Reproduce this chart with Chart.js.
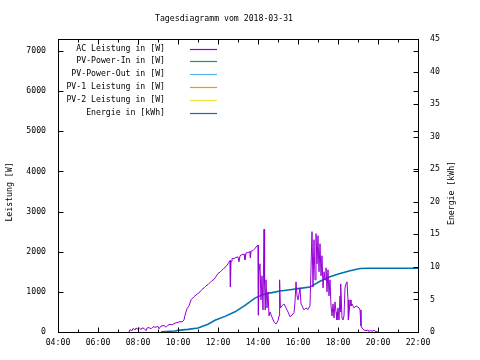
<!DOCTYPE html>
<html>
<head>
<meta charset="utf-8">
<script src="https://cdn.jsdelivr.net/npm/chart.js@4.4.1/dist/chart.umd.min.js"></script>
<style>
html,body{margin:0;padding:0;background:#fff;}
canvas{display:block;}
</style>
</head>
<body>
<canvas id="c" width="480" height="360"></canvas>
<script>
// ---- data (hours of day, values) ----
const chartTitle = 'Tagesdiagramm vom 2018-03-31';
const xTickValues = [4,6,8,10,12,14,16,18,20,22];
const xTickLabels = ['04:00','06:00','08:00','10:00','12:00','14:00','16:00','18:00','20:00','22:00'];
const yTickValues = [0,1000,2000,3000,4000,5000,6000,7000];
const y2TickValues = [0,5,10,15,20,25,30,35,40,45];
const seriesLabels = ['AC Leistung in [W]','PV-Power-In in [W]','PV-Power-Out in [W]','PV-1 Leistung in [W]','PV-2 Leistung in [W]','Energie in [kWh]'];
const seriesColors = ['#9400d3','#009e73','#56b4e9','#e69f00','#f0e442','#0072b2'];

const acTimes = [7.55,7.6,7.7,7.75,7.85,7.9,8.0,8.05,8.15,8.2,8.3,8.4,8.45,8.55,8.65,8.75,8.9,9.0,9.05,9.15,9.3,9.4,9.5,9.6,9.7,9.8,9.9,10.0,10.1,10.2,10.3,
10.35,10.45,10.55,10.65,10.8,10.9,11.0,11.1,11.2,11.3,11.4,11.5,11.6,11.7,11.8,11.9,12.0,12.1,12.2,12.3,12.4,12.5,12.6,12.62,12.65,12.7,12.8,12.9,13.0,13.05,13.1,13.2,13.3,13.35,13.4,13.5,13.6,13.62,13.65,13.75,13.85,13.95,14.0,
14.02,14.05,14.1,14.15,14.2,14.25,14.3,14.33,14.36,14.4,14.45,14.5,14.55,14.6,14.7,14.8,14.9,15.0,15.05,15.08,15.12,15.2,15.3,15.4,15.5,15.6,15.7,15.8,15.85,15.9,15.95,16.0,16.1,16.15,16.2,16.3,16.4,16.5,16.6,
16.65,16.7,16.75,16.8,16.85,16.9,16.95,17.0,17.05,17.1,17.15,17.2,17.25,17.3,17.35,17.4,17.45,17.5,17.55,17.6,17.65,17.7,17.75,17.8,17.85,17.9,17.95,18.0,18.05,18.1,18.12,18.15,18.2,18.25,18.3,18.35,18.4,18.45,18.5,18.52,18.55,18.6,18.65,18.7,18.75,18.8,18.9,19.0,19.05,19.1,19.15,19.2,19.25,19.3,19.4,19.5,19.55,19.6,19.7,19.8,19.9,20.0];
const acPower = [0,60,30,90,50,100,70,110,60,100,90,30,100,110,80,130,120,140,80,150,160,120,170,190,180,210,230,240,260,250,300,
420,580,650,800,880,920,960,1000,1060,1100,1150,1180,1230,1280,1310,1380,1460,1490,1540,1590,1630,1700,1780,1120,1760,1830,1830,1860,1870,1750,1900,1930,1940,1800,1970,1980,2000,1850,2010,2030,2080,2150,2160,
420,1500,1700,800,1400,550,2560,1200,550,1300,600,1000,400,500,370,250,200,280,400,1300,600,650,700,600,500,380,420,480,750,1250,900,800,1100,700,650,550,600,560,650,
1600,2500,1120,2300,1300,2450,1700,2400,1500,2200,1400,1900,1100,1500,1300,1600,1000,1550,900,1300,650,400,700,350,750,500,300,600,300,900,500,1200,350,300,400,1100,1200,1250,800,300,450,800,650,700,650,600,650,620,600,550,150,100,80,50,30,50,10,40,20,40,10,0];

const energyTimes = [9.15,9.85,10.0,10.5,11.0,11.5,11.85,12.35,12.85,13.35,13.85,14.2,14.5,14.7,15.1,15.6,16.1,16.6,17.1,17.6,18.1,18.6,19.1,19.5,22.0];
const energyValues = [0.05,0.15,0.25,0.4,0.6,1.2,1.8,2.4,3.1,4.1,5.2,5.7,5.95,6.05,6.3,6.5,6.7,6.9,7.8,8.5,9.0,9.4,9.75,9.8,9.8];

const FONT = '"DejaVu Sans Mono", monospace';
const FS = 8.2;

function pts(xs, ys){ return xs.map((x,i)=>({x:x, y:ys[i]})); }

const decorPlugin = {
  id: 'decor',
  afterDraw(chart){
    const ctx = chart.ctx, a = chart.chartArea;
    const xs = chart.scales.x, ys = chart.scales.y, y2 = chart.scales.y2;
    ctx.save();
    ctx.strokeStyle = '#000'; ctx.lineWidth = 1;
    const L = Math.round(a.left)+0.5, R = Math.round(a.right)+0.5, T = Math.round(a.top)+0.5, B = Math.round(a.bottom)+0.5;
    ctx.beginPath();
    for (let h = 4; h <= 22; h++){
      const px = Math.round(xs.getPixelForValue(h))+0.5;
      const len = (h % 2 === 0) ? 5 : 3;
      ctx.moveTo(px, B); ctx.lineTo(px, B-len);
      ctx.moveTo(px, T); ctx.lineTo(px, T+len);
    }
    ys.ticks.forEach(t => {
      const py = Math.round(ys.getPixelForValue(t.value))+0.5;
      ctx.moveTo(L, py); ctx.lineTo(L+5, py);
      ctx.moveTo(R, py); ctx.lineTo(R-5, py);
    });
    y2.ticks.forEach(t => {
      const py = Math.round(y2.getPixelForValue(t.value))+0.5;
      ctx.moveTo(R, py); ctx.lineTo(R-5, py);
    });
    ctx.stroke();
    ctx.strokeRect(L, T, R-L, B-T);

    ctx.fillStyle = '#000';
    ctx.font = FS + 'px ' + FONT;
    ctx.textAlign = 'center'; ctx.textBaseline = 'middle';
    ctx.fillText(chartTitle, 224, 18.5);
    ctx.save(); ctx.translate(10, 192); ctx.rotate(-Math.PI/2); ctx.fillText('Leistung [W]', 0, 0); ctx.restore();
    ctx.save(); ctx.translate(452, 193); ctx.rotate(-Math.PI/2); ctx.fillText('Energie [kWh]', 0, 0); ctx.restore();

    chart.data.datasets.forEach((ds, i) => {
      const yy = 48.5 + i*12.8;
      ctx.textAlign = 'right';
      ctx.fillText(ds.label, 165, yy);
      ctx.beginPath();
      ctx.strokeStyle = ds.borderColor; ctx.lineWidth = 1.2;
      ctx.moveTo(190, Math.round(yy)+0.5); ctx.lineTo(217, Math.round(yy)+0.5);
      ctx.stroke();
    });
    ctx.restore();
  }
};

const datasets = seriesLabels.map((lab, i) => ({
  label: lab,
  data: [],
  borderColor: seriesColors[i],
  backgroundColor: seriesColors[i],
  borderWidth: 1,
  pointRadius: 0,
  tension: 0,
  fill: false,
  yAxisID: 'y'
}));
datasets[0].data = pts(acTimes, acPower);
datasets[5].data = pts(energyTimes, energyValues);
datasets[5].yAxisID = 'y2';
datasets[5].borderWidth = 1.6;

const tickFont = { family: FONT, size: FS };

new Chart(document.getElementById('c'), {
  type: 'line',
  data: { datasets: datasets },
  options: {
    responsive: false,
    animation: false,
    layout: { padding: { top: 39, left: 0, right: 0, bottom: 0 } },
    plugins: {
      legend: { display: false },
      tooltip: { enabled: false },
      title: { display: false }
    },
    scales: {
      x: {
        type: 'linear', min: 4, max: 22,
        grid: { display: false, drawTicks: false },
        border: { display: false },
        afterBuildTicks: s => { s.ticks = xTickValues.map(v => ({ value: v })); },
        ticks: {
          maxRotation: 0, autoSkip: false, padding: 6,
          color: '#000', font: tickFont,
          callback: (v) => xTickLabels[xTickValues.indexOf(v)]
        },
        afterFit: s => { s.height = 28; }
      },
      y: {
        position: 'left', min: 0, max: 7300,
        grid: { display: false, drawTicks: false },
        border: { display: false },
        afterBuildTicks: s => { s.ticks = yTickValues.map(v => ({ value: v })); },
        ticks: { autoSkip: false, padding: 12, color: '#000', font: tickFont, callback: v => String(v) },
        afterFit: s => { s.width = 58; }
      },
      y2: {
        position: 'right', min: 0, max: 45,
        grid: { display: false, drawTicks: false },
        border: { display: false },
        afterBuildTicks: s => { s.ticks = y2TickValues.map(v => ({ value: v })); },
        ticks: { autoSkip: false, padding: 12, color: '#000', font: tickFont, callback: v => String(v) },
        afterFit: s => { s.width = 62; }
      }
    }
  },
  plugins: [decorPlugin]
});
</script>
</body>
</html>
